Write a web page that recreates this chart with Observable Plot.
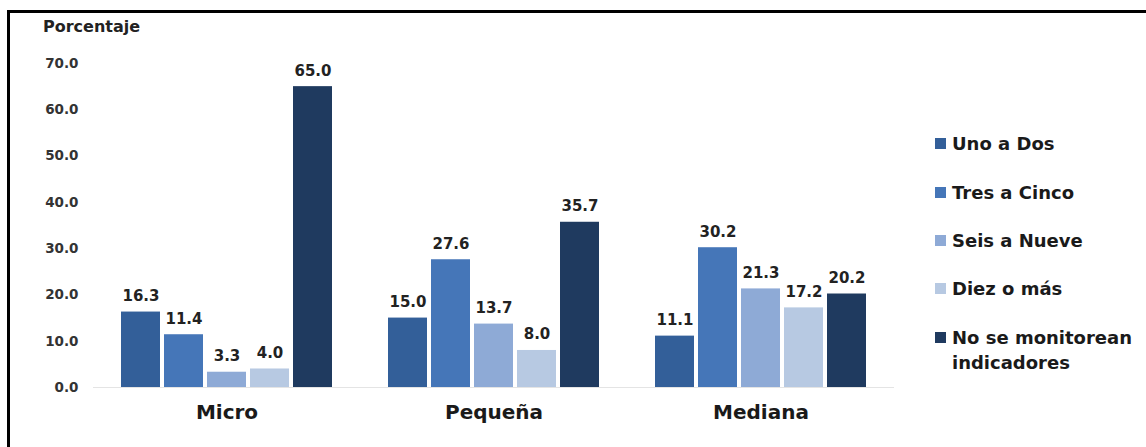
<!DOCTYPE html>
<html>
<head>
<meta charset="utf-8">
<script src="https://cdn.jsdelivr.net/npm/d3@7"></script>
<script src="https://cdn.jsdelivr.net/npm/@observablehq/plot@0.6"></script>
<style>
  html, body { margin: 0; padding: 0; background: #fff; }
  #wrap { position: relative; width: 1146px; height: 447px; overflow: hidden; font-family: "DejaVu Sans", sans-serif; font-weight: bold; }
  #frame { position: absolute; left: 7px; top: 10px; right: -10px; bottom: -10px; border-top: 3px solid #000; border-left: 3px solid #000; }
  #ylab { position: absolute; left: 43px; top: 17px; font-size: 16px; color: #222; }
  .leg { position: absolute; left: 935px; font-size: 18px; color: #1a1a1a; line-height: 25px; }
  .leg .sw { position: absolute; left: 0; top: 7px; width: 11px; height: 11px; }
  .leg .tx { position: absolute; left: 17px; top: 0; white-space: nowrap; }
</style>
</head>
<body>
<div id="wrap">
  <div id="chart"></div>
  <div id="frame"></div>
  <div id="ylab">Porcentaje</div>
  <div id="legend"></div>
</div>
<script>
const categories = ["Micro", "Pequeña", "Mediana"];
const seriesNames = ["Uno a Dos", "Tres a Cinco", "Seis a Nueve", "Diez o más", "No se monitorean indicadores"];
const legendLabels = [["Uno a Dos"], ["Tres a Cinco"], ["Seis a Nueve"], ["Diez o más"], ["No se monitorean", "indicadores"]];
const unoADos = [16.3, 15.0, 11.1];
const tresACinco = [11.4, 27.6, 30.2];
const seisANueve = [3.3, 13.7, 21.3];
const diezOMas = [4.0, 8.0, 17.2];
const noSeMonitorean = [65.0, 35.7, 20.2];
const yTicks = [0, 10, 20, 30, 40, 50, 60, 70];
const colors = ["#335f99", "#4576b8", "#8eaad6", "#b7c9e2", "#1f3a5f"];

const seriesValues = [unoADos, tresACinco, seisANueve, diezOMas, noSeMonitorean];
const data = [];
categories.forEach((c, i) => {
  seriesNames.forEach((s, j) => {
    data.push({cat: c, series: s, value: seriesValues[j][i]});
  });
});

const chart = Plot.plot({
  width: 1146,
  height: 447,
  marginLeft: 92,
  marginRight: 251,
  marginTop: 63,
  marginBottom: 60,
  style: {fontFamily: "DejaVu Sans, sans-serif", color: "#333", background: "transparent"},
  fx: {domain: categories, paddingInner: 0, paddingOuter: 0, axis: null},
  x: {domain: seriesNames, paddingInner: 0.09, paddingOuter: 0.6, axis: null},
  y: {domain: [0, 70], axis: null},
  color: {domain: seriesNames, range: colors},
  marks: [
    Plot.ruleY([0], {stroke: "#e4e4e4", strokeWidth: 1}),
    Plot.barY(data, {fx: "cat", x: "series", y: "value", fill: "series"}),
    Plot.text(data, {fx: "cat", x: "series", y: "value", text: d => d.value.toFixed(1), dy: -11, lineAnchor: "bottom", fontSize: 15, fontWeight: "bold", fill: "#222"}),
    Plot.axisY({ticks: yTicks, tickFormat: d => d.toFixed(1), tickSize: 0, tickPadding: 15, fontSize: 13.5, fontWeight: "bold", label: null}),
    Plot.axisFx({anchor: "bottom", tickSize: 0, tickPadding: 17, fontSize: 20, fontWeight: "bold", label: null, color: "#1a1a1a"})
  ]
});
document.getElementById("chart").appendChild(chart);

const legendTops = [131, 180, 228, 276, 325];
const legend = document.getElementById("legend");
legendLabels.forEach((lines, i) => {
  const item = document.createElement("div");
  item.className = "leg";
  item.style.top = legendTops[i] + "px";
  const sw = document.createElement("div");
  sw.className = "sw";
  sw.style.background = colors[i];
  item.appendChild(sw);
  const tx = document.createElement("div");
  tx.className = "tx";
  tx.innerHTML = lines.join("<br>");
  item.appendChild(tx);
  legend.appendChild(item);
});
</script>
</body>
</html>
